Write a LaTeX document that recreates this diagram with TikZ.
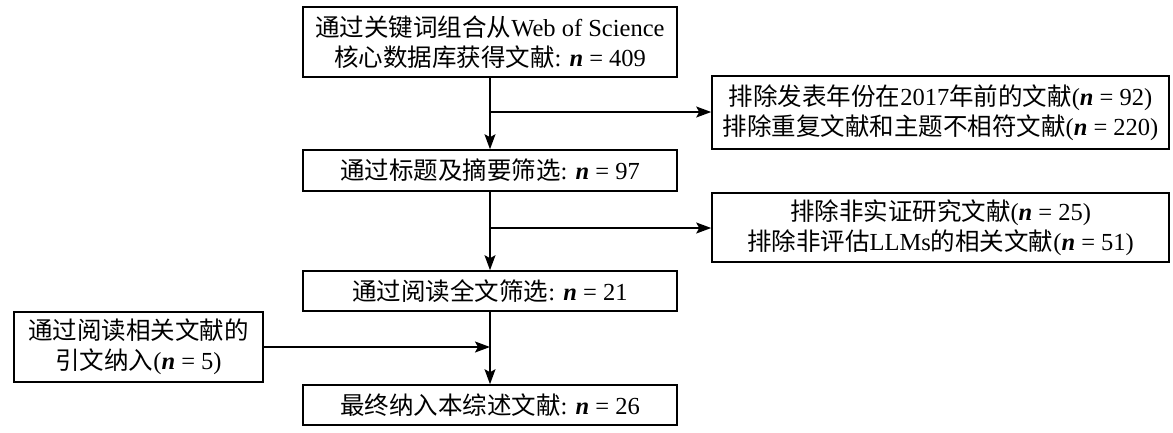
\documentclass[tikz,border=0pt]{standalone}
\usepackage{fontspec}
\setmainfont{Liberation Serif}
\newfontfamily\cjk{Noto Sans CJK SC}
\usetikzlibrary{arrows.meta}
\newcommand\nvar{\textbf{\textit{n}}}
\begin{document}
\begin{tikzpicture}[x=1pt,y=-1pt,
  box/.style={draw, line width=1.6pt, align=center, inner sep=0pt,
    font=\fontsize{24.5}{30}\selectfont},
  arr/.style={line width=1.5pt, -{Stealth[length=15pt,width=11pt,inset=3pt]}}]
\useasboundingbox (0,0) rectangle (1173,432);
\node[box, minimum width=374pt, minimum height=70pt] (b1) at (490,42)
  {{\cjk 通过关键词组合从}Web of Science\\{\cjk 核心数据库获得文献}: \nvar{} = 409};
\node[box, minimum width=374pt, minimum height=41pt] (b2) at (490,170.5)
  {{\cjk 通过标题及摘要筛选}: \nvar{} = 97};
\node[box, minimum width=374pt, minimum height=40pt] (b3) at (490,291)
  {{\cjk 通过阅读全文筛选}: \nvar{} = 21};
\node[box, minimum width=374pt, minimum height=40pt] (b4) at (490,405)
  {{\cjk 最终纳入本综述文献}: \nvar{} = 26};
\node[box, minimum width=457pt, minimum height=73pt] (r1) at (940.5,112.5)
  {{\cjk 排除发表年份在}2017{\cjk 年前的文献}(\nvar{} = 92)\\{\cjk 排除重复文献和主题不相符文献}(\nvar{} = 220)};
\node[box, minimum width=457pt, minimum height=69pt] (r2) at (940.5,227.5)
  {{\cjk 排除非实证研究文献}(\nvar{} = 25)\\{\cjk 排除非评估}LLMs{\cjk 的相关文献}(\nvar{} = 51)};
\node[box, minimum width=249pt, minimum height=70pt] (l1) at (138.5,347)
  {{\cjk 通过阅读相关文献的}\\{\cjk 引文纳入}(\nvar{} = 5)};
\coordinate (j1) at (490,112);
\coordinate (j2) at (490,228);
\coordinate (j3) at (490,347);
\draw[arr] (b1.south) -- (b2.north);
\draw[arr] (j1) -- (r1.west |- j1);
\draw[arr] (b2.south) -- (b3.north);
\draw[arr] (j2) -- (r2.west |- j2);
\draw[arr] (b3.south) -- (b4.north);
\draw[arr] (l1.east |- j3) -- (j3);
\end{tikzpicture}
\end{document}
